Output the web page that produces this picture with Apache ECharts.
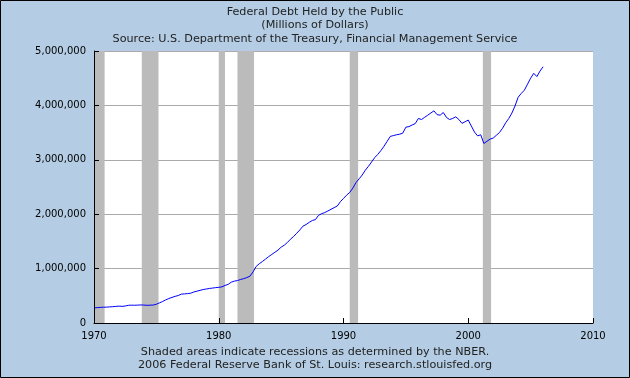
<!DOCTYPE html>
<html>
<head>
<meta charset="utf-8">
<script src="https://cdn.jsdelivr.net/npm/echarts@6/dist/echarts.min.js"></script>
<style>
html,body{margin:0;padding:0;background:#B4CDE4;}
#chart{width:630px;height:378px;}
</style>
</head>
<body>
<div id="chart"></div>
<script>
// Quarterly federal debt held by the public (millions of dollars), 1970Q1 .. 2006Q1
const startYear = 1970;
const debtValues = [
  278000, 282000, 287000, 290000,
  292000, 296000, 300000, 305000,
  310000, 306000, 312000, 325000,
  328000, 326000, 329000, 332000,
  330000, 325000, 328000, 330000,
  345000, 370000, 395000, 425000,
  450000, 470000, 490000, 505000,
  530000, 535000, 540000, 548000,
  570000, 585000, 600000, 615000,
  625000, 635000, 642000, 650000,
  655000, 665000, 690000, 710000,
  750000, 770000, 780000, 800000,
  815000, 835000, 860000, 940000,
  1040000, 1090000, 1130000, 1175000,
  1220000, 1260000, 1300000, 1340000,
  1395000, 1430000, 1480000, 1540000,
  1590000, 1650000, 1710000, 1780000,
  1810000, 1850000, 1885000, 1900000,
  1980000, 2010000, 2030000, 2060000,
  2090000, 2120000, 2150000, 2230000,
  2290000, 2350000, 2400000, 2480000,
  2580000, 2650000, 2720000, 2810000,
  2880000, 2960000, 3040000, 3100000,
  3170000, 3250000, 3340000, 3430000,
  3445000, 3460000, 3470000, 3490000,
  3600000, 3610000, 3640000, 3665000,
  3760000, 3740000, 3780000, 3820000,
  3860000, 3900000, 3830000, 3820000,
  3870000, 3780000, 3740000, 3760000,
  3790000, 3740000, 3670000, 3700000,
  3730000, 3620000, 3510000, 3440000,
  3460000, 3300000, 3340000, 3380000,
  3400000, 3450000, 3500000, 3580000,
  3680000, 3760000, 3860000, 3990000,
  4150000, 4220000, 4280000, 4390000,
  4500000, 4590000, 4530000, 4630000,
  4710000
];
// NBER recessions (start, end) as fractional years
const recessionStarts = [1969.92, 1973.83, 1980.0, 1981.5, 1990.5, 2001.17];
const recessionEnds   = [1970.85, 1975.17, 1980.5, 1982.83, 1991.17, 2001.83];
const xTicks = [1970, 1980, 1990, 2000, 2010];
const yTicks = [0, 1000000, 2000000, 3000000, 4000000, 5000000];
const titleLines = [
  'Federal Debt Held by the Public',
  '(Millions of Dollars)',
  'Source: U.S. Department of the Treasury, Financial Management Service'
];
const footLines = [
  'Shaded areas indicate recessions as determined by the NBER.',
  '2006 Federal Reserve Bank of St. Louis: research.stlouisfed.org'
];

const seriesData = debtValues.map((v, i) => [startYear + i / 4, v]);
const areas = recessionStarts.map((s, i) => [{xAxis: Math.max(s, 1970)}, {xAxis: recessionEnds[i]}]);

const FONT = 'DejaVu Sans';
const fmt = v => v.toLocaleString('en-US');

const chart = echarts.init(document.getElementById('chart'));
chart.setOption({
  animation: false,
  backgroundColor: '#B4CDE4',
  title: {
    text: titleLines.join('\n'),
    left: 'center',
    top: 0,
    textStyle: {fontFamily: FONT, fontSize: 11.2, fontWeight: 'normal', color: '#222', lineHeight: 13.5}
  },
  grid: {left: 94, right: 37, top: 51, bottom: 55, show: true, backgroundColor: '#fff', borderWidth: 0},
  xAxis: {
    type: 'value', min: xTicks[0], max: xTicks[xTicks.length - 1], interval: 10,
    axisLine: {show: true, lineStyle: {color: '#000', width: 1}},
    axisTick: {show: true, inside: true, length: 5, lineStyle: {color: '#000'}},
    splitLine: {show: false},
    axisLabel: {fontFamily: FONT, fontSize: 10, color: '#000', margin: 8, formatter: v => String(v)},
    z: 5
  },
  yAxis: [{
    type: 'value', min: yTicks[0], max: yTicks[yTicks.length - 1], interval: 1000000,
    axisLine: {show: false}, axisTick: {show: false}, axisLabel: {show: false},
    splitLine: {show: true, lineStyle: {color: '#AAAAAA', width: 1}}
  }, {
    type: 'value', position: 'left', min: yTicks[0], max: yTicks[yTicks.length - 1], interval: 1000000,
    axisLine: {show: true, lineStyle: {color: '#000', width: 1}},
    axisTick: {show: true, inside: true, length: 5, lineStyle: {color: '#000'}},
    splitLine: {show: false},
    axisLabel: {fontFamily: FONT, fontSize: 10, color: '#000', margin: 8, formatter: v => fmt(v)},
    z: 5
  }],
  series: [{
    type: 'line', data: seriesData, yAxisIndex: 0,
    showSymbol: false, symbol: 'none',
    lineStyle: {color: '#0000FF', width: 1},
    z: 3,
    markArea: {silent: true, itemStyle: {color: '#BBBBBB', opacity: 1}, data: areas, z: 1}
  }],
  graphic: [
    {type: 'text', left: 'center', top: 347, style: {text: footLines[0], font: '11.2px "DejaVu Sans"', fill: '#222'}},
    {type: 'text', left: 'center', top: 360, style: {text: footLines[1], font: '11.2px "DejaVu Sans"', fill: '#222'}},
    {type: 'rect', shape: {x: 0.5, y: 0.5, width: 629, height: 377}, style: {fill: 'none', stroke: '#000', lineWidth: 1}, z: 100}
  ]
});
</script>
</body>
</html>
